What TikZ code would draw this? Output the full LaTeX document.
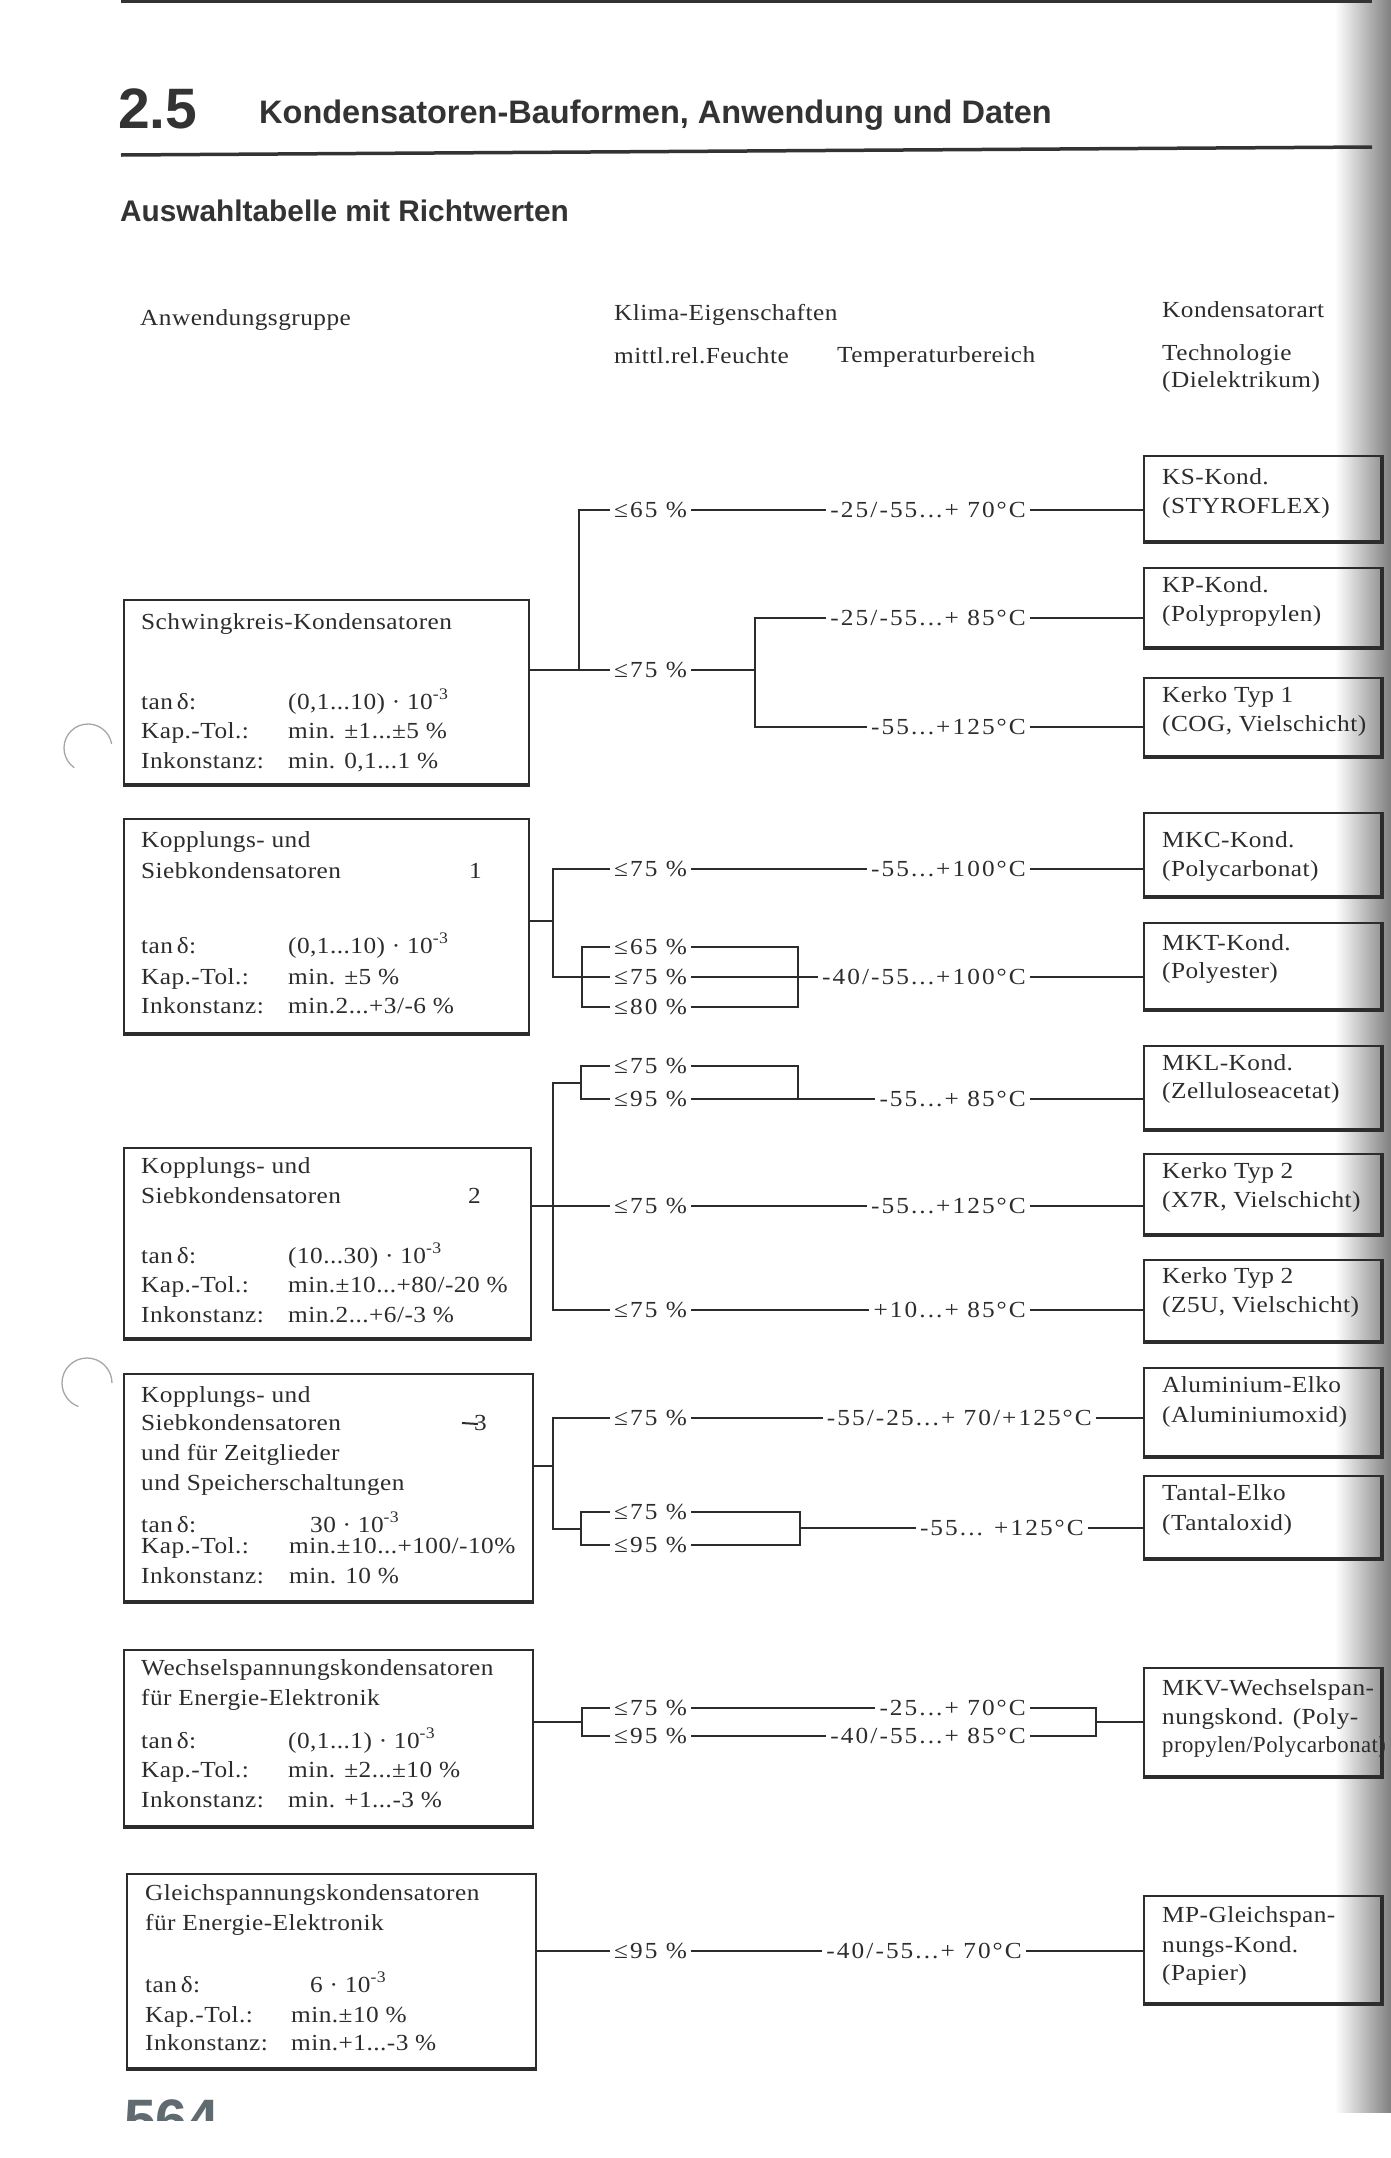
\documentclass[tikz,border=0pt]{standalone}
\usepackage{fontspec}
\setmainfont{Liberation Serif}[FakeStretch=1.1, LetterSpace=2]
\newfontfamily\spaced{Liberation Serif}[FakeStretch=1.1, LetterSpace=9]
\newfontfamily\hsans{Liberation Sans}
\usetikzlibrary{calc}
\definecolor{inkc}{HTML}{2c2c2c}
\definecolor{headc}{HTML}{333333}
\definecolor{pagec}{HTML}{5f6b70}
\tikzset{
  basetxt/.style={inner sep=0pt, text=inkc, font=\fontsize{23}{27}\selectfont},
  txt/.style={basetxt, anchor=base west},
  hum/.style={basetxt, font=\spaced\fontsize{23}{27}\selectfont, anchor=west, inner xsep=4pt, inner ysep=0pt, text height=15pt, text depth=1pt},
  tmpl/.style={basetxt, font=\spaced\fontsize{23}{27}\selectfont, anchor=east, inner xsep=4pt, inner ysep=0pt, text height=15pt, text depth=1pt},
  wire/.style={draw=inkc, line width=1.9pt},
  lbox/.style={draw=inkc, line width=1.9pt, anchor=north west, inner sep=0pt},
  rbox/.style={draw=inkc, line width=1.9pt, anchor=north west, inner sep=0pt, minimum width=237pt},
  heavy/.style={draw=inkc, line width=3.6pt},
  hole/.style={draw=black!35, line width=1.3pt},
  sanshead/.style={anchor=base west, inner sep=0pt, text=headc}
}
\newcommand\T[4]{\node[txt] (#1) at (#2,#3) {#4};}
\begin{document}
\begin{tikzpicture}[x=1pt,y=-1pt]
\useasboundingbox (0,0) rectangle (1391,2158);
% page edge shadow
\shade[left color=white, right color=black!50] (1335,0) rectangle (1391,2112);
% rules
\draw[draw=headc, line width=3pt] (121,1.5) -- (1372,1.5);
\draw[draw=headc, line width=3.5pt] (121,155) -- (1372,147);
% headings
\node[sanshead, font=\hsans\bfseries\fontsize{57}{60}\selectfont] (sec) at (118,128) {2.5};
\node[sanshead, font=\hsans\bfseries\fontsize{32.5}{36}\selectfont] (title) at (259,123) {Kondensatoren-Bauformen, Anwendung und Daten};
\node[sanshead, font=\hsans\bfseries\fontsize{29.8}{32}\selectfont] (subtitle) at (120,221) {Auswahltabelle mit Richtwerten};
% column headers
\T{ca}{140}{325}{Anwendungsgruppe}
\T{cb}{614}{320}{Klima-Eigenschaften}
\T{cc}{614}{363}{mittl.rel.Feuchte}
\T{cd}{837}{362}{Temperaturbereich}
\T{ce}{1162}{317}{Kondensatorart}
\T{cf}{1162}{360}{Technologie}
\T{cg}{1162}{387}{(Dielektrikum)}
% punch holes
\draw[hole] (88,748) ++(-10:24) arc (-10:-235:24);
\draw[hole] (87,1383) ++(0:25) arc (0:-250:25);
% left boxes
\node[lbox, minimum width=405pt, minimum height=184pt] (L1) at (123,599) {};
\node[lbox, minimum width=405pt, minimum height=214pt] (L2) at (123,818) {};
\node[lbox, minimum width=407pt, minimum height=190pt] (L3) at (123,1147) {};
\node[lbox, minimum width=409pt, minimum height=227pt] (L4) at (123,1373) {};
\node[lbox, minimum width=409pt, minimum height=176pt] (L5) at (123,1649) {};
\node[lbox, minimum width=409pt, minimum height=194pt] (L6) at (126,1873) {};
\foreach \b in {L1,L2,L3,L4,L5,L6} {\draw[heavy] (\b.south west) -- (\b.south east);}
% right boxes
\node[rbox, minimum height=85pt] (r1) at (1143,455) {};
\node[rbox, minimum height=79pt] (r2) at (1143,567) {};
\node[rbox, minimum height=78pt] (r3) at (1143,677) {};
\node[rbox, minimum height=83pt] (r4) at (1143,812) {};
\node[rbox, minimum height=86pt] (r5) at (1143,922) {};
\node[rbox, minimum height=83pt] (r6) at (1143,1045) {};
\node[rbox, minimum height=80pt] (r7) at (1143,1153) {};
\node[rbox, minimum height=81pt] (r8) at (1143,1259) {};
\node[rbox, minimum height=88pt] (r9) at (1143,1367) {};
\node[rbox, minimum height=82pt] (r10) at (1143,1475) {};
\node[rbox, minimum height=108pt] (r11) at (1143,1667) {};
\node[rbox, minimum height=107pt] (r12) at (1143,1895) {};
\foreach \b in {r1,r2,r3,r4,r5,r6,r7,r8,r9,r10,r11,r12} {\draw[heavy] (\b.south west) -- (\b.south east) -- (\b.north east);}
% left box texts
\T{a1}{141}{629}{Schwingkreis-Kondensatoren}
\T{a2}{141}{709}{tan\,δ:}      \T{a3}{288}{709}{(0,1...10) · 10\textsuperscript{-3}}
\T{a4}{141}{738}{Kap.-Tol.:}   \T{a5}{288}{738}{min. ±1...±5 \%}
\T{a6}{141}{768}{Inkonstanz:}  \T{a7}{288}{768}{min. 0,1...1 \%}
\T{b1}{141}{847}{Kopplungs- und}
\T{b2}{141}{878}{Siebkondensatoren} \T{b3}{469}{878}{1}
\T{b4}{141}{953}{tan\,δ:}      \T{b5}{288}{953}{(0,1...10) · 10\textsuperscript{-3}}
\T{b6}{141}{984}{Kap.-Tol.:}   \T{b7}{288}{984}{min. ±5 \%}
\T{b8}{141}{1013}{Inkonstanz:} \T{b9}{288}{1013}{min.2...+3/-6 \%}
\T{c1}{141}{1173}{Kopplungs- und}
\T{c2}{141}{1203}{Siebkondensatoren} \T{c3}{468}{1203}{2}
\T{c4}{141}{1263}{tan\,δ:}      \T{c5}{288}{1263}{(10...30) · 10\textsuperscript{-3}}
\T{c6}{141}{1292}{Kap.-Tol.:}   \T{c7}{288}{1292}{min.±10...+80/-20 \%}
\T{c8}{141}{1322}{Inkonstanz:}  \T{c9}{288}{1322}{min.2...+6/-3 \%}
\T{d1}{141}{1402}{Kopplungs- und}
\T{d2}{141}{1430}{Siebkondensatoren} \T{d3}{474}{1430}{3}
\draw[draw=inkc, line width=2pt] (462,1423) -- (478,1424);
\T{d4}{141}{1460}{und für Zeitglieder}
\T{d5}{141}{1490}{und Speicherschaltungen}
\T{d6}{141}{1532}{tan\,δ:}      \T{d7}{310}{1532}{30 · 10\textsuperscript{-3}}
\T{d8}{141}{1553}{Kap.-Tol.:}   \T{d9}{289}{1553}{min.±10...+100/-10\%}
\T{d10}{141}{1583}{Inkonstanz:} \T{d11}{289}{1583}{min. 10 \%}
\T{e1}{141}{1675}{Wechselspannungskondensatoren}
\T{e2}{141}{1705}{für Energie-Elektronik}
\T{e3}{141}{1748}{tan\,δ:}      \T{e4}{288}{1748}{(0,1...1) · 10\textsuperscript{-3}}
\T{e5}{141}{1777}{Kap.-Tol.:}   \T{e6}{288}{1777}{min. ±2...±10 \%}
\T{e7}{141}{1807}{Inkonstanz:}  \T{e8}{288}{1807}{min. +1...-3 \%}
\T{f1}{145}{1900}{Gleichspannungskondensatoren}
\T{f2}{145}{1930}{für Energie-Elektronik}
\T{f3}{145}{1992}{tan\,δ:}      \T{f4}{310}{1992}{6 · 10\textsuperscript{-3}}
\T{f5}{145}{2022}{Kap.-Tol.:}   \T{f6}{291}{2022}{min.±10 \%}
\T{f7}{145}{2050}{Inkonstanz:}  \T{f8}{291}{2050}{min.+1...-3 \%}
% right box texts
\T{s1}{1162}{484}{KS-Kond.}          \T{s2}{1162}{513}{(STYROFLEX)}
\T{s3}{1162}{592}{KP-Kond.}          \T{s4}{1162}{621}{(Polypropylen)}
\T{s5}{1162}{702}{Kerko Typ 1}       \T{s6}{1162}{731}{(COG, Vielschicht)}
\T{s7}{1162}{847}{MKC-Kond.}         \T{s8}{1162}{876}{(Polycarbonat)}
\T{s9}{1162}{950}{MKT-Kond.}         \T{s10}{1162}{978}{(Polyester)}
\T{s11}{1162}{1070}{MKL-Kond.}       \T{s12}{1162}{1098}{(Zelluloseacetat)}
\T{s13}{1162}{1178}{Kerko Typ 2}     \T{s14}{1162}{1207}{(X7R, Vielschicht)}
\T{s15}{1162}{1283}{Kerko Typ 2}     \T{s16}{1162}{1312}{(Z5U, Vielschicht)}
\T{s17}{1162}{1392}{Aluminium-Elko}  \T{s18}{1162}{1422}{(Aluminiumoxid)}
\T{s19}{1162}{1500}{Tantal-Elko}     \T{s20}{1162}{1530}{(Tantaloxid)}
\T{s21}{1162}{1695}{MKV-Wechselspan-}
\T{s22}{1162}{1724}{nungskond. (Poly-}
\node[txt] (s23) at (1162,1752) {\scalebox{0.9}[1]{propylen/Polycarbonat)}};
\T{s24}{1162}{1922}{MP-Gleichspan-}
\T{s25}{1162}{1952}{nungs-Kond.}
\T{s26}{1162}{1980}{(Papier)}
% ---------- group 1
\coordinate (j1) at (579,670);
\coordinate (j2) at (755,670);
\node[hum] (h11) at (610,510) {≤65 \%};
\node[hum] (h12) at (610,670) {≤75 \%};
\node[tmpl] (t11) at (1030,510) {-25/-55...+ 70°C};
\node[tmpl] (t12) at (1030,618) {-25/-55...+ 85°C};
\node[tmpl] (t13) at (1030,727) {-55...+125°C};
\draw[wire] (L1.east |- h12.west) -- (h12.west);
\draw[wire] (j1) |- (h11.west);
\draw[wire] (h11.east) -- (t11.west);
\draw[wire] (t11.east) -- (t11.east -| r1.west);
\draw[wire] (h12.east) -- (j2);
\draw[wire] (t12.west) -| (j2) |- (t13.west);
\draw[wire] (t12.east) -- (t12.east -| r2.west);
\draw[wire] (t13.east) -- (t13.east -| r3.west);
% ---------- group 2
\coordinate (j3) at (553,921);
\coordinate (b2) at (582,977);
\coordinate (c2) at (798,977);
\node[hum] (h21) at (610,869) {≤75 \%};
\node[hum] (h22) at (610,947) {≤65 \%};
\node[hum] (h23) at (610,977) {≤75 \%};
\node[hum] (h24) at (610,1007) {≤80 \%};
\node[tmpl] (t21) at (1030,869) {-55...+100°C};
\node[tmpl] (t22) at (1030,977) {-40/-55...+100°C};
\draw[wire] (L2.east |- j3) -- (j3);
\draw[wire] (h21.west) -| (j3) |- (h23.west);
\draw[wire] (h22.west) -| (b2) |- (h24.west);
\draw[wire] (h22.east) -| (c2) |- (h24.east);
\draw[wire] (h23.east) -- (t22.west);
\draw[wire] (h21.east) -- (t21.west);
\draw[wire] (t21.east) -- (t21.east -| r4.west);
\draw[wire] (t22.east) -- (t22.east -| r5.west);
% ---------- group 3
\coordinate (j4) at (553,1206);
\coordinate (b3) at (581,1083);
\coordinate (c3) at (798,1099);
\node[hum] (h31) at (610,1066) {≤75 \%};
\node[hum] (h32) at (610,1099) {≤95 \%};
\node[hum] (h33) at (610,1206) {≤75 \%};
\node[hum] (h34) at (610,1310) {≤75 \%};
\node[tmpl] (t31) at (1030,1099) {-55...+ 85°C};
\node[tmpl] (t33) at (1030,1206) {-55...+125°C};
\node[tmpl] (t34) at (1030,1310) {+10...+ 85°C};
\draw[wire] (L3.east |- h33.west) -- (h33.west);
\draw[wire] (b3) -| (j4) |- (h34.west);
\draw[wire] (h31.west) -| (b3) |- (h32.west);
\draw[wire] (h31.east) -| (c3);
\draw[wire] (h32.east) -- (t31.west);
\draw[wire] (t31.east) -- (t31.east -| r6.west);
\draw[wire] (h33.east) -- (t33.west);
\draw[wire] (t33.east) -- (t33.east -| r7.west);
\draw[wire] (h34.east) -- (t34.west);
\draw[wire] (t34.east) -- (t34.east -| r8.west);
% ---------- group 4
\coordinate (j5) at (553,1466);
\coordinate (b4) at (581,1529);
\coordinate (c4) at (800,1528);
\node[hum] (h41) at (610,1418) {≤75 \%};
\node[hum] (h42) at (610,1512) {≤75 \%};
\node[hum] (h43) at (610,1545) {≤95 \%};
\node[tmpl] (t41) at (1096,1418) {-55/-25...+ 70/+125°C};
\node[tmpl] (t42) at (1088,1528) {-55... +125°C};
\draw[wire] (L4.east |- j5) -- (j5);
\draw[wire] (h41.west) -| (j5) |- (b4);
\draw[wire] (h42.west) -| (b4) |- (h43.west);
\draw[wire] (h42.east) -| (c4) |- (h43.east);
\draw[wire] (c4) -- (t42.west);
\draw[wire] (h41.east) -- (t41.west);
\draw[wire] (t41.east) -- (t41.east -| r9.west);
\draw[wire] (t42.east) -- (t42.east -| r10.west);
% ---------- group 5
\coordinate (b5) at (582,1722);
\coordinate (c5) at (1096,1722);
\node[hum] (h51) at (610,1708) {≤75 \%};
\node[hum] (h52) at (610,1736) {≤95 \%};
\node[tmpl] (t51) at (1030,1708) {-25...+ 70°C};
\node[tmpl] (t52) at (1030,1736) {-40/-55...+ 85°C};
\draw[wire] (L5.east |- b5) -- (b5);
\draw[wire] (h51.west) -| (b5) |- (h52.west);
\draw[wire] (h51.east) -- (t51.west);
\draw[wire] (h52.east) -- (t52.west);
\draw[wire] (t51.east) -| (c5) |- (t52.east);
\draw[wire] (c5) -- (c5 -| r11.west);
% ---------- group 6
\node[hum] (h61) at (610,1951) {≤95 \%};
\node[tmpl] (t61) at (1026,1951) {-40/-55...+ 70°C};
\draw[wire] (L6.east |- h61.west) -- (h61.west);
\draw[wire] (h61.east) -- (t61.west);
\draw[wire] (t61.east) -- (t61.east -| r12.west);
% page number, cut off by the scan edge
\begin{scope}
\clip (100,2090) rectangle (320,2120);
\node[sanshead, text=pagec, font=\hsans\bfseries\fontsize{57}{60}\selectfont] (pnum) at (124,2139) {564};
\end{scope}
\end{tikzpicture}
\end{document}
